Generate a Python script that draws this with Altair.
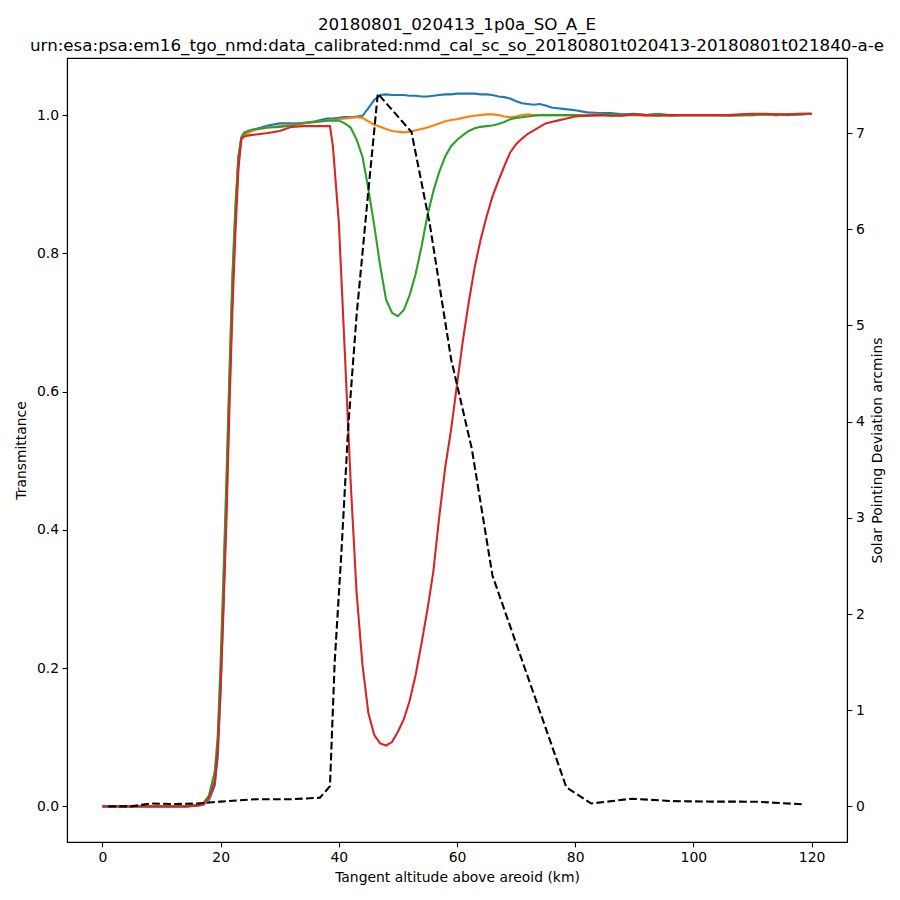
import altair as alt
import pandas as pd

# Tangent altitude grid (km) for the transmittance curves
alt_km = [
    0, 2, 4, 6, 8, 10, 12, 14, 16, 17,
    18, 19, 19.5, 20, 20.5, 21, 21.5, 22, 22.5, 23,
    23.5, 24, 25, 26, 28, 30, 32, 34, 36, 38,
    38.5, 39, 40, 41, 42, 43, 44, 45, 46, 47,
    48, 49, 50, 51, 52, 53, 54, 55, 56, 57,
    58, 59, 60, 61, 62, 63, 64, 65, 66, 67,
    68, 69, 70, 71, 72, 73, 74, 75, 76, 77,
    78, 80, 82, 84, 86, 88, 90, 92, 94, 96,
    98, 100, 102, 104, 106, 108, 110, 112, 114, 116,
    118, 120,
]

trans_blue = [
    0.0, 0.0, 0.0, 0.0, 0.0, 0.0, 0.0, 0.0, 0.001, 0.002,
    0.008, 0.03, 0.07, 0.17, 0.30, 0.44, 0.60, 0.74, 0.85, 0.93,
    0.965, 0.972, 0.978, 0.980, 0.985, 0.988, 0.988, 0.988, 0.991, 0.995,
    0.995, 0.995, 0.996, 0.997, 0.997, 0.998, 0.999, 1.010, 1.022, 1.029,
    1.030, 1.029, 1.029, 1.029, 1.028, 1.028, 1.027, 1.027, 1.028, 1.029,
    1.030, 1.030, 1.031, 1.031, 1.031, 1.031, 1.030, 1.030, 1.029, 1.027,
    1.026, 1.024, 1.020, 1.017, 1.016, 1.015, 1.016, 1.014, 1.011, 1.010,
    1.009, 1.007, 1.004, 1.003, 1.003, 1.001, 1.002, 1.000, 1.001, 0.999,
    1.000, 1.000, 1.000, 1.000, 0.999, 1.000, 1.001, 1.001, 1.000, 1.001,
    1.001, 1.002,
]

trans_orange = [
    0.0, 0.0, 0.0, 0.0, 0.0, 0.0, 0.0, 0.0, 0.001, 0.003,
    0.010, 0.04, 0.09, 0.19, 0.32, 0.46, 0.62, 0.76, 0.86, 0.94,
    0.965, 0.970, 0.976, 0.979, 0.982, 0.984, 0.986, 0.988, 0.990, 0.992,
    0.993, 0.993, 0.994, 0.995, 0.996, 0.997, 0.996, 0.991, 0.986, 0.983,
    0.980, 0.977, 0.976, 0.975, 0.976, 0.978, 0.980, 0.982, 0.985, 0.988,
    0.991, 0.993, 0.994, 0.996, 0.998, 0.999, 1.000, 1.001, 1.001, 1.000,
    0.998, 0.997, 0.998, 1.000, 1.001, 1.000, 1.000, 1.000, 1.000, 1.000,
    1.000, 1.000, 1.000, 1.001, 0.999, 1.000, 1.000, 0.999, 1.000, 1.000,
    1.000, 1.000, 1.000, 1.000, 1.000, 1.000, 1.000, 1.001, 1.000, 1.001,
    1.002, 1.002,
]

trans_green = [
    0.0, 0.0, 0.0, 0.0, 0.0, 0.0, 0.0, 0.0, 0.002, 0.004,
    0.015, 0.05, 0.10, 0.21, 0.34, 0.48, 0.63, 0.77, 0.87, 0.94,
    0.968, 0.975, 0.978, 0.980, 0.982, 0.983, 0.985, 0.989, 0.990, 0.992,
    0.992, 0.992, 0.992, 0.988, 0.982, 0.965, 0.940, 0.893, 0.840, 0.782,
    0.733, 0.714, 0.709, 0.718, 0.740, 0.770, 0.810, 0.855, 0.890, 0.918,
    0.940, 0.955, 0.964, 0.971, 0.977, 0.981, 0.983, 0.984, 0.985, 0.987,
    0.990, 0.994, 0.996, 0.997, 0.998, 0.999, 1.000, 1.000, 1.000, 1.000,
    1.000, 1.000, 0.999, 1.000, 1.001, 1.000, 1.001, 1.000, 1.002, 1.000,
    1.000, 1.000, 1.000, 1.000, 1.000, 1.000, 1.000, 1.001, 1.001, 1.000,
    1.001, 1.002,
]

trans_red = [
    0.0, 0.0, 0.0, 0.0, 0.0, 0.0, 0.0, 0.0, 0.001, 0.003,
    0.012, 0.035, 0.08, 0.17, 0.29, 0.42, 0.58, 0.72, 0.83, 0.92,
    0.966, 0.969, 0.971, 0.972, 0.974, 0.977, 0.983, 0.984, 0.984, 0.984,
    0.984, 0.955, 0.845, 0.660, 0.470, 0.310, 0.205, 0.135, 0.103, 0.091,
    0.088, 0.093, 0.108, 0.126, 0.153, 0.190, 0.236, 0.285, 0.340, 0.419,
    0.490, 0.545, 0.610, 0.674, 0.730, 0.780, 0.820, 0.853, 0.882, 0.905,
    0.926, 0.946, 0.958, 0.966, 0.973, 0.978, 0.983, 0.988, 0.990, 0.992,
    0.994, 0.998, 0.999, 1.000, 0.999, 0.999, 1.001, 1.000, 0.999, 1.000,
    1.000, 1.000, 1.000, 1.000, 1.000, 1.001, 1.002, 1.002, 1.001, 1.001,
    1.002, 1.002,
]

# Solar pointing deviation (arcmins), dashed black line on right axis
pd_alt = [1.0, 4.8, 8.1, 12.0, 16.0, 20.0, 26.0, 32.0, 36.8, 38.5,
          39.3, 40.4, 41.6, 43.0, 45.0, 46.6, 52.3, 55.4, 59.0, 62.5,
          66.0, 78.5, 82.7, 89.6, 96.4, 103.0, 110.5, 118.9]
pd_val = [0.0, 0.0, 0.03, 0.025, 0.03, 0.05, 0.075, 0.075, 0.09, 0.21,
          1.5, 2.6, 3.95, 5.1, 6.4, 7.41, 7.01, 6.05, 4.65, 3.72,
          2.40, 0.20, 0.03, 0.08, 0.055, 0.05, 0.049, 0.021]

series_names = ["s1", "s2", "s3", "s4"]
series_colors = ["#1f77b4", "#ff7f0e", "#2ca02c", "#d62728"]
series_values = [trans_blue, trans_orange, trans_green, trans_red]

rows = []
for name, vals in zip(series_names, series_values):
    for a, v in zip(alt_km, vals):
        rows.append({"alt": a, "T": v, "series": name})
df = pd.DataFrame(rows)
df_pd = pd.DataFrame({"alt": pd_alt, "dev": pd_val})

FONT = "DejaVu Sans"
xscale = alt.Scale(domain=[-6, 126], nice=False, zero=False)

trans = alt.Chart(df).mark_line(strokeWidth=2.1, clip=True).encode(
    x=alt.X("alt:Q", scale=xscale,
            axis=alt.Axis(values=[0, 20, 40, 60, 80, 100, 120],
                          title="Tangent altitude above areoid (km)",
                          titlePadding=6)),
    y=alt.Y("T:Q", scale=alt.Scale(domain=[-0.0516, 1.0826], nice=False, zero=False),
            axis=alt.Axis(values=[0.0, 0.2, 0.4, 0.6, 0.8, 1.0], format=".1f",
                          title="Transmittance", orient="left", titlePadding=8)),
    color=alt.Color("series:N", scale=alt.Scale(domain=series_names, range=series_colors),
                    legend=None),
    order=alt.Order("alt:Q"),
)

dev = alt.Chart(df_pd).mark_line(strokeWidth=2.1, color="black",
                                 strokeDash=[7.7, 3.3], clip=True).encode(
    x=alt.X("alt:Q", scale=xscale),
    y=alt.Y("dev:Q", scale=alt.Scale(domain=[-0.37, 7.78], nice=False, zero=False),
            axis=alt.Axis(values=[0, 1, 2, 3, 4, 5, 6, 7], format="d",
                          title="Solar Pointing Deviation arcmins", orient="right",
                          titleAngle=270, titleBaseline="top", titlePadding=6)),
    order=alt.Order("alt:Q"),
)

chart = alt.layer(trans, dev).resolve_scale(y="independent").properties(
    width=780,
    height=784,
    padding={"left": 59, "top": 50, "right": 45, "bottom": 50},
    autosize=alt.AutoSizeParams(type="none"),
    title=alt.TitleParams(
        text=["20180801_020413_1p0a_SO_A_E",
              "urn:esa:psa:em16_tgo_nmd:data_calibrated:nmd_cal_sc_so_20180801t020413-20180801t021840-a-e"],
        font=FONT, fontSize=16.7, fontWeight="normal", color="black",
        anchor="middle", offset=3, lineHeight=21,
    ),
).configure_view(
    stroke="black", strokeWidth=1.1
).configure_axis(
    grid=False,
    labelFont=FONT, labelFontSize=13.9, labelColor="black",
    titleFont=FONT, titleFontSize=13.9, titleFontWeight="normal", titleColor="black",
    tickColor="black", tickSize=4.9, tickWidth=1.1, labelPadding=3.5,
    domainColor="black", domainWidth=1.1,
)

chart.save("out.html", embed_options={"renderer": "svg", "actions": False})
